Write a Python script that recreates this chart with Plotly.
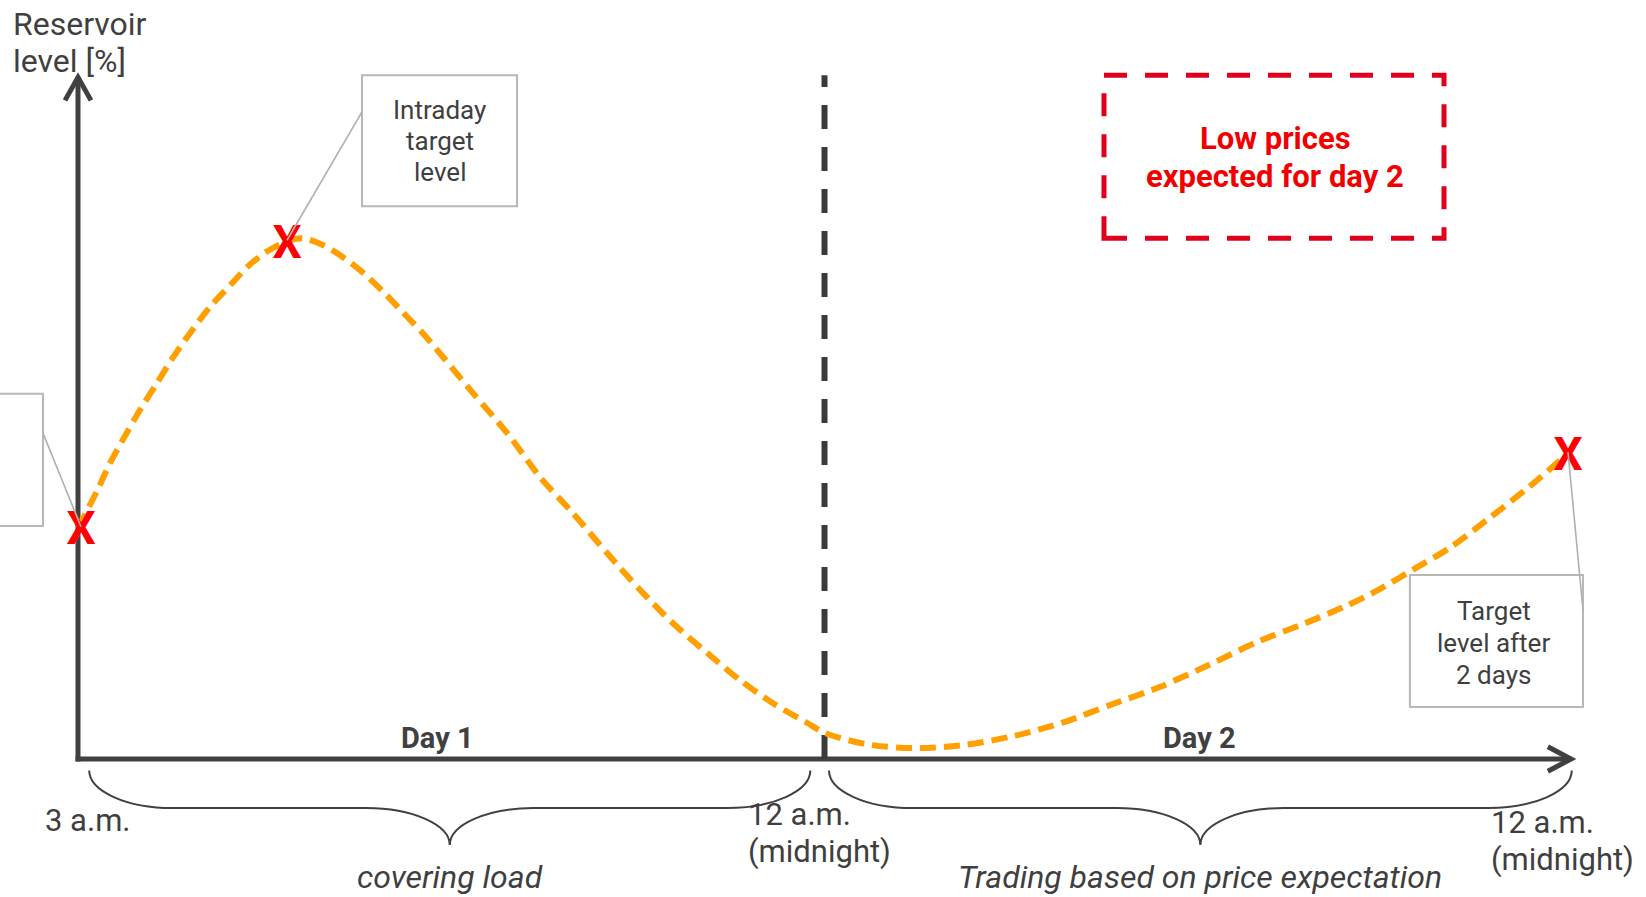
import plotly.graph_objects as go

# Reservoir fill level over two trading days.
# x: time in days since 3 a.m. on day 1 (1 = midnight after day 1, 2 = midnight after day 2)
# y: reservoir level in %
time_day = [0.000, 0.026, 0.043, 0.060, 0.083, 0.106, 0.127, 0.150, 0.177, 0.204,
            0.230, 0.257, 0.284, 0.301, 0.328, 0.355, 0.382, 0.409, 0.435, 0.462,
            0.489, 0.529, 0.575, 0.619, 0.663, 0.709, 0.753, 0.797, 0.843, 0.887,
            0.931, 0.977, 1.001, 1.060, 1.124, 1.190, 1.254, 1.320, 1.384, 1.449,
            1.514, 1.579, 1.644, 1.696, 1.742, 1.787, 1.839, 1.892, 1.944, 1.997]
level_pct = [34.0, 39.6, 43.6, 47.0, 51.4, 55.4, 59.1, 62.7, 66.6, 69.8,
             72.8, 75.0, 76.4, 76.7, 75.7, 73.9, 71.6, 68.8, 65.8, 62.7,
             59.2, 53.9, 48.0, 41.5, 36.2, 30.3, 24.9, 20.0, 15.6, 11.6,
             8.2, 5.3, 3.8, 2.1, 1.6, 2.1, 3.4, 5.4, 8.0, 10.6,
             13.8, 17.2, 20.0, 22.4, 24.9, 27.8, 31.2, 35.6, 40.1, 45.1]

# Target checkpoints marked with a red X: start level, intraday target, level after 2 days
checkpoint_time = [0.004, 0.280, 1.996]
checkpoint_level = [34.2, 76.4, 45.2]

day_names = ["Day 1", "Day 2"]
day_bounds = [0.0, 1.0, 2.0]
phase_names = ["covering load", "Trading based on price expectation"]
boundary_labels = [["3 a.m."], ["12 a.m.", "(midnight)"], ["12 a.m.", "(midnight)"]]

X_RANGE = [-0.10449, 2.10047]
Y_RANGE = [-20.324, 111.782]

DARK = "#404040"
TEXT = "#3f3f3f"
GRAY = "#b8b8b8"
ORANGE = "#ff9f00"
RED_BOX = "#e1001c"
RED_TXT = "#f20000"
FONT = "Roboto"

# the "X" glyph sits slightly above its anchor; nudge it onto the point
GLYPH_DY = -0.9

fig = go.Figure()

# reservoir trajectory
fig.add_trace(go.Scatter(
    x=time_day, y=level_pct, mode="lines",
    line=dict(color=ORANGE, width=6, dash="16px,8px", shape="spline", smoothing=0.8),
    hoverinfo="skip",
))

# checkpoint crosses
fig.add_trace(go.Scatter(
    x=checkpoint_time, y=[v + GLYPH_DY for v in checkpoint_level],
    mode="text", text=["X"] * len(checkpoint_time),
    textposition="middle center",
    textfont=dict(family=FONT, size=46, color="#ff0000", weight=700),
    hoverinfo="skip",
))

shapes = []

# axes with open arrow heads
shapes.append(dict(type="line", x0=0, x1=0, y0=-0.37, y1=100.4,
                   line=dict(color=DARK, width=5), layer="below"))
shapes.append(dict(type="path", path="M -0.0174,97.0 L 0,100.4 L 0.0174,97.0",
                   line=dict(color=DARK, width=5), layer="below"))
shapes.append(dict(type="line", x0=-0.0033, x1=2.0, y0=0, y1=0,
                   line=dict(color=DARK, width=5), layer="below"))
shapes.append(dict(type="path", path="M 1.969,1.8 L 2.0,0 L 1.969,-1.8",
                   line=dict(color=DARK, width=5), layer="below"))

# day separator
shapes.append(dict(type="line", x0=day_bounds[1], x1=day_bounds[1], y0=0, y1=100.7,
                   line=dict(color="#3a3a3a", width=6, dash="24px,18px"), layer="below"))

# price expectation box
shapes.append(dict(type="rect", x0=1.3744, x1=1.8299, y0=76.7, y1=100.7,
                   line=dict(color=RED_BOX, width=5, dash="23px,18px"), layer="below"))

# callout boxes
callouts = [
    dict(x0=-0.12, x1=-0.0469, y0=34.3, y1=53.8, lx=-0.0469, ly=48.0, target=0),
    dict(x0=0.3804, x1=0.5881, y0=81.4, y1=100.7, lx=0.3804, ly=95.3, target=1),
    dict(x0=1.7842, x1=2.0161, y0=7.66, y1=27.1, lx=2.0161, ly=21.9, target=2),
]
for c in callouts:
    shapes.append(dict(type="rect", x0=c["x0"], x1=c["x1"], y0=c["y0"], y1=c["y1"],
                       line=dict(color=GRAY, width=2), layer="below"))
    i = c["target"]
    shapes.append(dict(type="line", x0=c["lx"], y0=c["ly"],
                       x1=checkpoint_time[i], y1=checkpoint_level[i],
                       line=dict(color="#b0b0b0", width=1.6), layer="above"))


def brace_path(xa, xb, y_top, y_mid, y_tip, hook):
    k = 0.552
    cx = (xa + xb) / 2
    d_end = y_mid - y_top
    d_tip = y_tip - y_mid
    return (
        f"M {xa},{y_top} "
        f"C {xa},{y_top + k * d_end} {xa + (1 - k) * hook},{y_mid} {xa + hook},{y_mid} "
        f"L {cx - hook},{y_mid} "
        f"C {cx - hook + k * hook},{y_mid} {cx},{y_tip - k * d_tip} {cx},{y_tip} "
        f"C {cx},{y_tip - k * d_tip} {cx + hook - k * hook},{y_mid} {cx + hook},{y_mid} "
        f"L {xb - hook},{y_mid} "
        f"C {xb - (1 - k) * hook},{y_mid} {xb},{y_top + k * d_end} {xb},{y_top}"
    )


brace_spans = [(day_bounds[0] + 0.015, day_bounds[1] - 0.019),
               (day_bounds[1] + 0.006, day_bounds[2] + 0.001)]
for xa, xb in brace_spans:
    shapes.append(dict(type="path", path=brace_path(xa, xb, -1.7, -7.22, -12.67, 0.112),
                       line=dict(color=DARK, width=2), layer="below"))

annotations = []


def add_text(lines, x, y_first, spacing, size, color=TEXT, xanchor="center",
             weight=400, style="normal"):
    for n, line in enumerate(lines):
        annotations.append(dict(
            x=x, y=y_first - n * spacing, xref="x", yref="y", text=line,
            showarrow=False, xanchor=xanchor, yanchor="middle",
            font=dict(family=FONT, size=size, color=color, weight=weight, style=style),
        ))


# y-axis title
add_text(["Reservoir", "level [%]"], -0.0900, 108.3, 5.45, 32, xanchor="left")

# callout texts
add_text(["Intraday", "target", "level"], 0.4849, 95.55, 4.57, 26)
add_text(["Target", "level after", "2 days"], 1.8968, 21.8, 4.7, 26)

# price expectation note
add_text(["Low prices", "expected for day 2"], 1.6035, 91.45, 5.6, 31,
         color=RED_TXT, weight=700)

# day names above the time axis
day_name_x = [0.481, 1.503]
for name, x in zip(day_names, day_name_x):
    add_text([name], x, 3.05, 0, 29, color=DARK, weight=700)

# time labels under the axis
label_pos = [(-0.0470, -9.13), (0.8945, -8.1), (1.8905, -9.28)]
for lines, (lx, ly) in zip(boundary_labels, label_pos):
    add_text(lines, lx, ly, 5.45, 31, xanchor="left")

# phase descriptions under the braces
for name, (xa, xb) in zip(phase_names, brace_spans):
    add_text([name], (xa + xb) / 2, -17.45, 0, 32, style="italic")

fig.update_layout(
    width=1646, height=897, autosize=False,
    margin=dict(l=0, r=0, t=0, b=0),
    paper_bgcolor="white", plot_bgcolor="white",
    showlegend=False,
    xaxis=dict(range=X_RANGE, visible=False, fixedrange=True),
    yaxis=dict(range=Y_RANGE, visible=False, fixedrange=True),
    shapes=shapes, annotations=annotations,
)

fig.write_html("out.html")
